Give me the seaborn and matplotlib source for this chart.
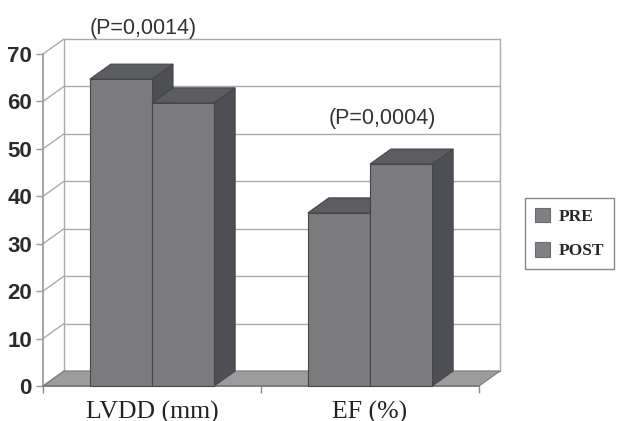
import matplotlib
matplotlib.use("Agg")
import matplotlib.pyplot as plt
import pandas as pd
import seaborn as sns
from matplotlib.lines import Line2D
from matplotlib.patches import Polygon, Rectangle
from matplotlib.transforms import IdentityTransform

# data
MEASURES = ["LVDD (mm)", "EF (%)"]
TIMES = ["PRE", "POST"]
PRE_VALUES = [64.7, 36.5]
POST_VALUES = [59.7, 46.8]
P_LABELS = ["(P=0,0014)", "(P=0,0004)"]
Y_TICKS = [0, 10, 20, 30, 40, 50, 60, 70]

# styling
FRONT = "#7a7b7f"
TOP = "#5c5d61"
SIDE = "#4d4f54"
EDGE = "#45464a"
FLOOR = "#9c9c9c"
GRID = "#aaaaaa"
DX, DY = 21, 15  # depth offset in pixels
P_POS = [(-0.04, 75.3), (1.055, 56.3)]

df = pd.DataFrame({
    "measure": MEASURES * 2,
    "time": ["PRE"] * len(MEASURES) + ["POST"] * len(MEASURES),
    "value": PRE_VALUES + POST_VALUES,
})

sns.set_theme(style="white")
plt.rcParams["font.family"] = ["Liberation Sans", "DejaVu Sans"]

fig = plt.figure(figsize=(6.21, 4.21), dpi=100)
ax = fig.add_axes([43 / 621, 35 / 421, 436 / 621, 332 / 421])
ax.patch.set_alpha(0)

sns.barplot(
    data=df, x="measure", y="value", hue="time",
    order=MEASURES, hue_order=TIMES, palette=[FRONT, FRONT],
    width=0.57, gap=0, edgecolor=EDGE, linewidth=0.8,
    errorbar=None, ax=ax,
)
ax.set_xlim(-0.5, 1.5)
ax.set_ylim(0, 70)
ax.set_xlabel("")
ax.set_ylabel("")

bars = sorted([p for p in ax.patches if isinstance(p, Rectangle) and p.get_height() > 0],
              key=lambda p: p.get_x())


def px(x, y, back=False):
    X, Y = ax.transData.transform((x, y))
    if back:
        X += DX
        Y += DY
    return (X, Y)


def pline(p0, p1, color=GRID, lw=1.0, z=0.5):
    ax.add_line(Line2D([p0[0], p1[0]], [p0[1], p1[1]], color=color, lw=lw,
                       transform=IdentityTransform(), clip_on=False, zorder=z))


def ppoly(verts, fc, ec=EDGE, lw=0.8, z=1):
    ax.add_patch(Polygon(verts, closed=True, fc=fc, ec=ec, lw=lw,
                         transform=IdentityTransform(), clip_on=False, zorder=z))


x_lo, x_hi = ax.get_xlim()
y_top = Y_TICKS[-1]

# back wall and left wall grid
for v in Y_TICKS:
    pline(px(x_lo, v, True), px(x_hi, v, True))
    pline(px(x_lo, v), px(x_lo, v, True))
pline(px(x_lo, 0, True), px(x_lo, y_top, True))
pline(px(x_hi, 0, True), px(x_hi, y_top, True))

# floor
ppoly([px(x_lo, 0), px(x_hi, 0), px(x_hi, 0, True), px(x_lo, 0, True)],
      fc=FLOOR, ec="#7a7a7a", lw=0.8, z=1)

# 3d faces for bars
for i, bar in enumerate(bars):
    x0 = bar.get_x()
    x1 = x0 + bar.get_width()
    h = bar.get_height()
    base = 3 + 3 * i
    ppoly([px(x1, 0), px(x1, 0, True), px(x1, h, True), px(x1, h)], fc=SIDE, z=base)
    ppoly([px(x0, h), px(x1, h), px(x1, h, True), px(x0, h, True)], fc=TOP, z=base + 1)
    bar.set_zorder(base + 2)
    bar.set_clip_on(False)

# axes / ticks
for s in ["top", "right"]:
    ax.spines[s].set_visible(False)
ax.spines["left"].set_color("#9a9a9a")
ax.spines["bottom"].set_color("#7a7a7a")
ax.spines["left"].set_zorder(2)

ax.set_yticks(Y_TICKS)
ax.tick_params(axis="y", left=True, length=5, width=1, color="#9a9a9a",
               pad=3, labelsize=16, labelcolor="#2b2b2b")
for lbl in ax.get_yticklabels():
    lbl.set_fontweight("bold")

ax.set_xticks([x_lo, 0.5, x_hi], minor=True)
ax.tick_params(axis="x", which="minor", bottom=True, length=5, width=1, color="#8a8a8a")
ax.tick_params(axis="x", which="major", bottom=False, length=0, pad=10.5,
               labelsize=18.5, labelcolor="#222222")
for lbl in ax.get_xticklabels():
    lbl.set_fontfamily("Liberation Serif")

for (x, y), txt in zip(P_POS, P_LABELS):
    ax.text(x, y, txt, ha="center", va="center", fontsize=15.5,
            color="#333333", clip_on=False, zorder=20)

handles, labels = ax.get_legend_handles_labels()
leg = ax.legend(
    handles, labels, loc="upper left",
    bbox_to_anchor=(525 / 621, 1 - 198 / 421), bbox_transform=fig.transFigure,
    frameon=True, fancybox=False, framealpha=1, edgecolor="#888888",
    prop=dict(family="Liberation Serif", weight="bold", size=12.5),
    handlelength=0.9, handleheight=0.9, handletextpad=0.5,
    borderpad=0.55, labelspacing=1.0, borderaxespad=0,
)
leg.get_frame().set_linewidth(1.0)
for hd in leg.legend_handles:
    hd.set_facecolor("#7f8083")
    hd.set_edgecolor("#6a6b6f")

fig.savefig("out.png", dpi=100)
